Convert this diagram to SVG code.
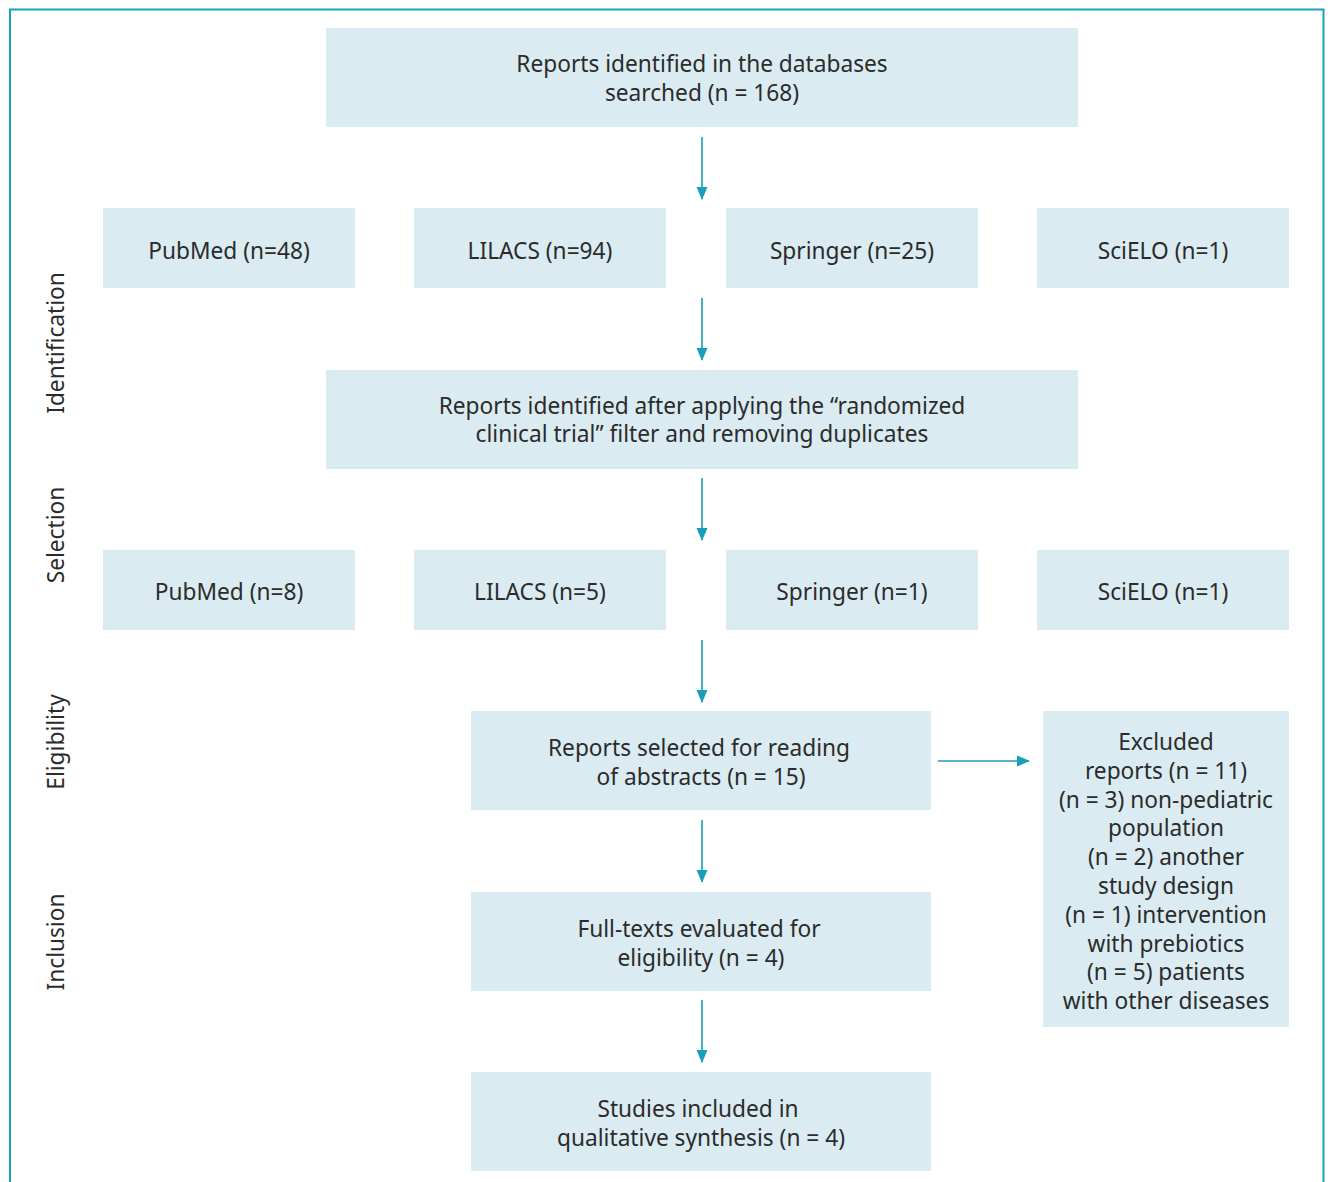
<svg xmlns="http://www.w3.org/2000/svg" width="1330" height="1182" viewBox="0 0 1330 1182">
<style>
.box{fill:#dbebf2}
text{font-family:"Noto Sans","Open Sans",sans-serif;font-size:22.7px;fill:#2b2b2b;text-anchor:middle}
.conn line{stroke:#1a9fba;stroke-width:1.6}
</style>
<defs>
<marker id="ah" markerWidth="13" markerHeight="13" refX="12" refY="6.5" orient="auto" markerUnits="userSpaceOnUse">
<path d="M0,1 L13,6.5 L0,12 Z" fill="#1a9fba"/>
</marker>
</defs>
<rect width="1330" height="1182" fill="#fff"/>
<path d="M10,1182 V9.5 H1323.5 V1182" fill="none" stroke="#1a9fba" stroke-width="2"/>
<g id="stages">
<text transform="translate(64,343) rotate(-90)">Identification</text>
<text transform="translate(64,535) rotate(-90)">Selection</text>
<text transform="translate(64,742) rotate(-90)">Eligibility</text>
<text transform="translate(64,942) rotate(-90)">Inclusion</text>
</g>
<g id="n_top"><rect class="box" x="326" y="28" width="752" height="99"/><text x="702" y="72">Reports identified in the databases</text><text x="702" y="101">searched (n = 168)</text></g>
<g id="n_pubmed1"><rect class="box" x="103" y="208" width="252" height="80"/><text x="229" y="259">PubMed (n=48)</text></g>
<g id="n_lilacs1"><rect class="box" x="414" y="208" width="252" height="80"/><text x="540" y="259">LILACS (n=94)</text></g>
<g id="n_springer1"><rect class="box" x="726" y="208" width="252" height="80"/><text x="852" y="259">Springer (n=25)</text></g>
<g id="n_scielo1"><rect class="box" x="1037" y="208" width="252" height="80"/><text x="1163" y="259">SciELO (n=1)</text></g>
<g id="n_filter"><rect class="box" x="326" y="370" width="752" height="99"/><text x="702" y="414">Reports identified after applying the “randomized</text><text x="702" y="442">clinical trial” filter and removing duplicates</text></g>
<g id="n_pubmed2"><rect class="box" x="103" y="550" width="252" height="80"/><text x="229" y="600">PubMed (n=8)</text></g>
<g id="n_lilacs2"><rect class="box" x="414" y="550" width="252" height="80"/><text x="540" y="600">LILACS (n=5)</text></g>
<g id="n_springer2"><rect class="box" x="726" y="550" width="252" height="80"/><text x="852" y="600">Springer (n=1)</text></g>
<g id="n_scielo2"><rect class="box" x="1037" y="550" width="252" height="80"/><text x="1163" y="600">SciELO (n=1)</text></g>
<g id="n_abstracts"><rect class="box" x="471" y="711" width="460" height="99"/><text x="699" y="756">Reports selected for reading</text><text x="701" y="785">of abstracts (n = 15)</text></g>
<g id="n_excluded"><rect class="box" x="1043" y="711" width="246" height="316"/>
<text x="1166" y="750">Excluded</text>
<text x="1166" y="779">reports (n = 11)</text>
<text x="1166" y="808">(n = 3) non-pediatric</text>
<text x="1166" y="836">population</text>
<text x="1166" y="865">(n = 2) another</text>
<text x="1166" y="894">study design</text>
<text x="1166" y="923">(n = 1) intervention</text>
<text x="1166" y="952">with prebiotics</text>
<text x="1166" y="980">(n = 5) patients</text>
<text x="1166" y="1009">with other diseases</text>
</g>
<g id="n_fulltext"><rect class="box" x="471" y="892" width="460" height="99"/><text x="699" y="937">Full-texts evaluated for</text><text x="701" y="966">eligibility (n = 4)</text></g>
<g id="n_included"><rect class="box" x="471" y="1072" width="460" height="99"/><text x="698" y="1117">Studies included in</text><text x="701" y="1146">qualitative synthesis (n = 4)</text></g>
<g id="connectors" class="conn">
<line x1="702" y1="137" x2="702" y2="199" marker-end="url(#ah)"/>
<line x1="702" y1="298" x2="702" y2="360" marker-end="url(#ah)"/>
<line x1="702" y1="478" x2="702" y2="540" marker-end="url(#ah)"/>
<line x1="702" y1="640" x2="702" y2="702" marker-end="url(#ah)"/>
<line x1="702" y1="820" x2="702" y2="882" marker-end="url(#ah)"/>
<line x1="702" y1="1000" x2="702" y2="1062" marker-end="url(#ah)"/>
<line x1="938" y1="761" x2="1029" y2="761" marker-end="url(#ah)"/>
</g>
</svg>
